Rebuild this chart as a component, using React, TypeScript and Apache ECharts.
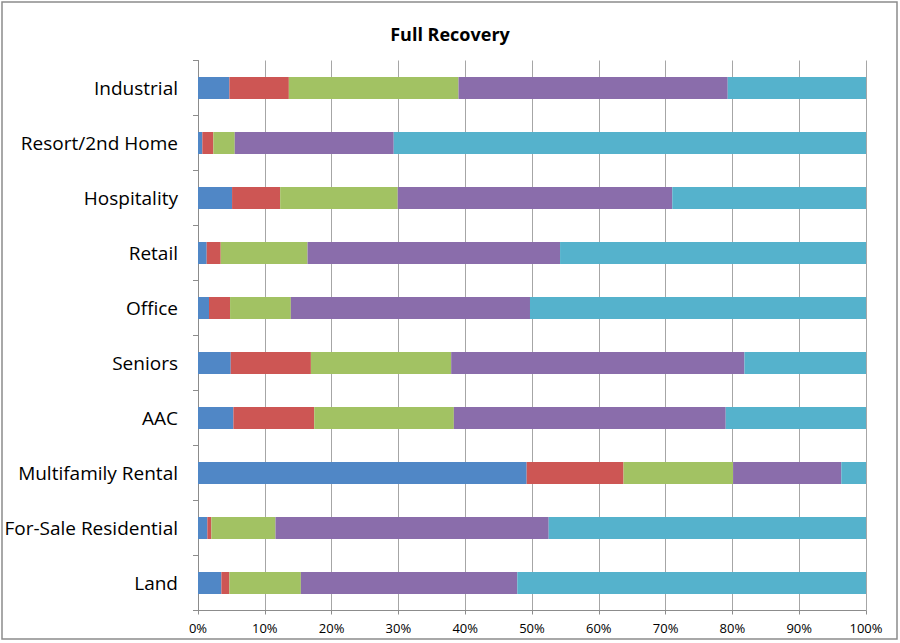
import React, { useEffect, useRef } from "react";
import * as echarts from "echarts";

const categories = [
  "Industrial",
  "Resort/2nd Home",
  "Hospitality",
  "Retail",
  "Office",
  "Seniors",
  "AAC",
  "Multifamily Rental",
  "For-Sale Residential",
  "Land",
];

const series1 = [4.7, 0.65, 5.1, 1.3, 1.65, 4.9, 5.3, 49.2, 1.4, 3.5];
const series2 = [8.9, 1.65, 7.2, 2.1, 3.15, 12.0, 12.1, 14.5, 0.6, 1.2];
const series3 = [25.4, 3.2, 17.6, 13.0, 9.1, 21.0, 20.9, 16.4, 9.6, 10.7];
const series4 = [40.3, 23.8, 41.1, 37.8, 35.8, 43.9, 40.7, 16.2, 40.9, 32.4];
const series5 = [20.7, 70.7, 29.0, 45.8, 50.3, 18.2, 21.0, 3.7, 47.5, 52.2];

const seriesNames = ["S1", "S2", "S3", "S4", "S5"];
const seriesData = [series1, series2, series3, series4, series5];
const colors = ["#5087c6", "#cd5654", "#a2c263", "#8a6dab", "#55b2cc"];

const FONT = "'Open Sans', 'Noto Sans', sans-serif";

export default function App() {
  const ref = useRef<HTMLDivElement>(null);
  useEffect(() => {
    if (!ref.current) return;
    const chart = echarts.init(ref.current, null, { renderer: "svg" });
    chart.setOption({
      animation: false,
      backgroundColor: "#ffffff",
      title: {
        text: "Full Recovery",
        left: "center",
        top: 20,
        textStyle: { fontFamily: FONT, fontSize: 18, fontWeight: "bold", color: "#000" },
      },
      graphic: [
        {
          type: "rect",
          shape: { x: 2, y: 2, width: 895, height: 637 },
          style: { fill: "none", stroke: "#8c8c8c", lineWidth: 1.5 },
          silent: true,
        },
      ],
      grid: { left: 198, right: 34, top: 60.5, bottom: 32.5, containLabel: false },
      xAxis: {
        type: "value",
        min: 0,
        max: 100,
        interval: 10,
        axisLine: { show: true, lineStyle: { color: "#8c8c8c" } },
        axisTick: { show: true, length: 4, lineStyle: { color: "#8c8c8c" } },
        splitLine: { show: true, lineStyle: { color: "#a6a6a6", width: 1 } },
        axisLabel: {
          formatter: "{value}%",
          fontFamily: FONT,
          fontSize: 13,
          color: "#000",
          margin: 11,
        },
      },
      yAxis: {
        type: "category",
        data: categories,
        inverse: true,
        axisLine: { show: true, lineStyle: { color: "#8c8c8c" } },
        axisTick: { show: true, length: 5, inside: false, lineStyle: { color: "#8c8c8c" } },
        axisLabel: {
          fontFamily: FONT,
          fontSize: 19,
          color: "#000",
          margin: 20,
        },
        splitLine: { show: false },
      },
      series: seriesData.map((d, i) => ({
        name: seriesNames[i],
        type: "bar",
        stack: "total",
        data: d,
        barWidth: "40%",
        itemStyle: { color: colors[i] },
      })),
    });
    return () => chart.dispose();
  }, []);
  return (
    <div
      ref={ref}
      style={{ position: "absolute", left: 0, top: 0, width: 900, height: 643 }}
    />
  );
}
